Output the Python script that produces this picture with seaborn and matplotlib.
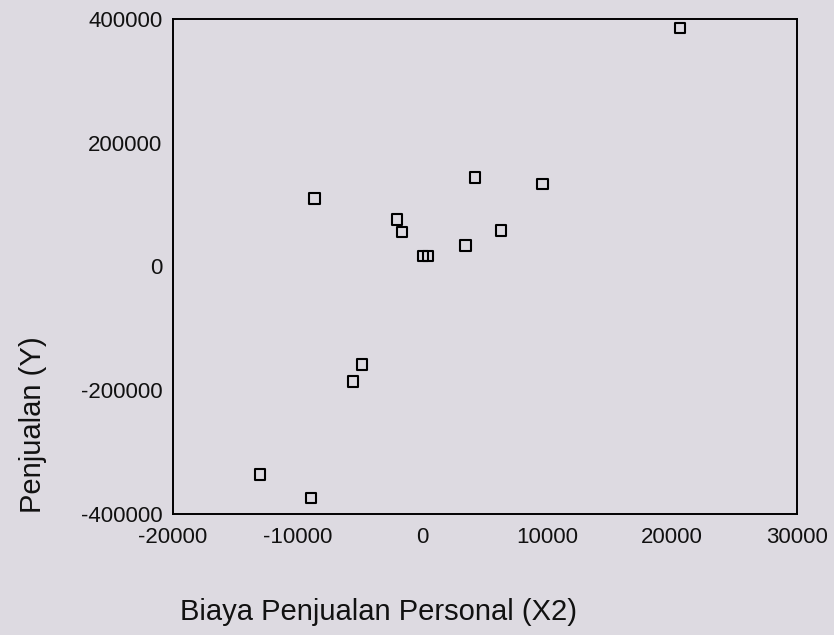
import matplotlib
matplotlib.use("Agg")
import matplotlib.pyplot as plt
import pandas as pd
import seaborn as sns

# values
biaya_personal = [20645, -8653, -2073, -1669, 40, 440, 4194, 3444,
                  6266, 9621, -4839, -5589, -13040, -8927]
penjualan = [384900, 110080, 75930, 55770, 17400, 17400, 143570, 33820,
             58050, 132840, -158210, -185850, -336090, -373980]

x_ticks = [-20000, -10000, 0, 10000, 20000, 30000]
y_ticks = [-400000, -200000, 0, 200000, 400000]

BG = "#dddae1"

sns.set_theme(style="white")
plt.rcParams["font.family"] = ["Liberation Sans", "DejaVu Sans"]

df = pd.DataFrame({"x": biaya_personal, "y": penjualan})

fig = plt.figure(figsize=(8.34, 6.35), dpi=100, facecolor=BG)
ax = fig.add_axes([0.2074, 0.1906, 0.7482, 0.7795])
ax.set_facecolor(BG)

sns.scatterplot(data=df, x="x", y="y", ax=ax, marker="s", s=55,
                facecolor="none", edgecolor="black", linewidth=1.5)

ax.set_xlim(-20000, 30000)
ax.set_ylim(-400000, 400000)
ax.set_xticks(x_ticks)
ax.set_yticks(y_ticks)
ax.set_xticklabels([str(v) for v in x_ticks])
ax.set_yticklabels([str(v) for v in y_ticks])

for side in ["left", "right", "top", "bottom"]:
    ax.spines[side].set_visible(True)
    ax.spines[side].set_color("black")
    ax.spines[side].set_linewidth(1.4)

ax.tick_params(axis="both", direction="out", length=3.5, width=3,
               color="black", labelsize=16, labelcolor="#111111", pad=4)
ax.tick_params(axis="x", pad=6)

ax.set_xlabel("Biaya Penjualan Personal (X2)", fontsize=21, color="#111111")
ax.set_ylabel("Penjualan (Y)", fontsize=21, color="#111111")
ax.xaxis.label.set_horizontalalignment("center")
ax.xaxis.label.set_verticalalignment("baseline")
ax.xaxis.set_label_coords(0.330, -0.214)
ax.yaxis.label.set_verticalalignment("center")
ax.yaxis.set_label_coords(-0.224, 0.180)

fig.savefig("out.png", dpi=100, facecolor=BG)
